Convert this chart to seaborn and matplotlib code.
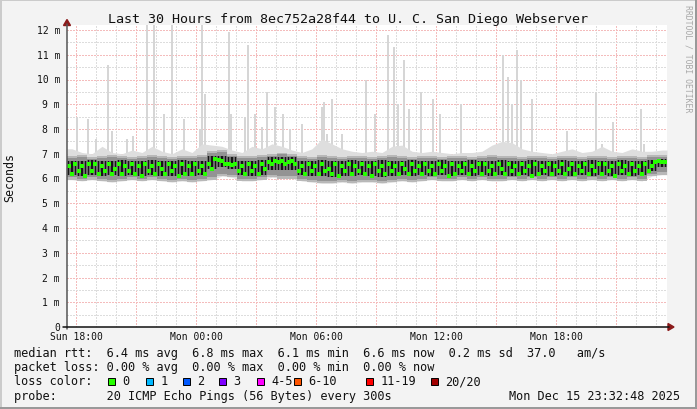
import numpy as np
import pandas as pd
import matplotlib
matplotlib.use("Agg")
import matplotlib.pyplot as plt
from matplotlib.patches import Rectangle, Polygon
from matplotlib.lines import Line2D
import seaborn as sns

TITLE = "Last 30 Hours from 8ec752a28f44 to U. C. San Diego Webserver"
X_TICK_HOURS = [0.4533, 6.4533, 12.4533, 18.4533, 24.4533]
X_TICK_LABELS = ["Sun 18:00", "Mon 00:00", "Mon 06:00", "Mon 12:00", "Mon 18:00"]
Y_TICKS = list(range(13))
Y_TICK_LABELS = ["0"] + [f"{v} m" for v in range(1, 13)]

# median rtt (ms), one value per 10 minutes, 180 steps
MEDIAN = [
    6.5, 6.2, 6.6, 6.3, 6.5, 6.1, 6.6, 6.3, 6.6, 6.2, 6.5, 6.3,
    6.6, 6.2, 6.4, 6.6, 6.2, 6.5, 6.3, 6.6, 6.2, 6.5, 6.1, 6.6,
    6.3, 6.5, 6.2, 6.6, 6.4, 6.2, 6.6, 6.3, 6.5, 6.1, 6.6, 6.2,
    6.5, 6.2, 6.6, 6.3, 6.5, 6.2, 6.6, 6.4, 6.8, 6.75, 6.7, 6.6,
    6.6, 6.55, 6.6, 6.3, 6.5, 6.2, 6.6, 6.3, 6.5, 6.2, 6.6, 6.4,
    6.65, 6.6, 6.7, 6.65, 6.7, 6.6, 6.65, 6.7, 6.6, 6.3, 6.5, 6.2,
    6.6, 6.3, 6.5, 6.2, 6.6, 6.3, 6.4, 6.2, 6.6, 6.1, 6.5, 6.3,
    6.6, 6.2, 6.5, 6.3, 6.6, 6.2, 6.5, 6.1, 6.6, 6.3, 6.5, 6.2,
    6.6, 6.3, 6.5, 6.2, 6.6, 6.4, 6.2, 6.6, 6.3, 6.5, 6.2, 6.6,
    6.3, 6.5, 6.2, 6.6, 6.3, 6.5, 6.1, 6.6, 6.2, 6.5, 6.3, 6.6,
    6.2, 6.5, 6.3, 6.6, 6.2, 6.6, 6.3, 6.5, 6.2, 6.6, 6.4, 6.2,
    6.6, 6.3, 6.5, 6.2, 6.6, 6.3, 6.5, 6.1, 6.6, 6.2, 6.5, 6.3,
    6.6, 6.2, 6.5, 6.3, 6.6, 6.2, 6.4, 6.6, 6.2, 6.5, 6.3, 6.6,
    6.2, 6.5, 6.3, 6.6, 6.2, 6.6, 6.3, 6.5, 6.1, 6.6, 6.3, 6.5,
    6.2, 6.6, 6.3, 6.5, 6.2, 6.6, 6.3, 6.5, 6.65, 6.7, 6.65, 6.65,
]

# smoke bands (ms), one value per 30 minutes, 60 steps
SMOKE_LO = [
    5.95, 5.9, 5.95, 5.9, 5.85, 5.9, 5.95, 5.9, 5.95, 5.9,
    5.85, 5.9, 5.85, 5.9, 5.95, 6.1, 6.05, 5.9, 5.9, 5.95,
    6.05, 6.0, 6.0, 5.9, 5.85, 5.8, 5.8, 5.85, 5.8, 5.85,
    5.85, 5.8, 5.85, 5.9, 5.85, 5.9, 5.95, 5.9, 5.9, 5.95,
    5.9, 5.95, 5.9, 5.9, 5.95, 5.9, 5.95, 5.9, 5.95, 5.9,
    5.95, 5.9, 5.95, 5.9, 5.95, 5.9, 5.95, 5.9, 6.1, 6.15,
]
SMOKE_HI = [
    6.9, 6.95, 6.85, 6.9, 6.95, 6.9, 6.85, 6.9, 6.95, 6.9,
    6.85, 6.9, 6.9, 6.95, 7.1, 7.15, 7.0, 6.9, 6.9, 6.95,
    7.0, 7.05, 7.0, 6.9, 6.85, 6.95, 6.9, 6.85, 6.9, 6.9,
    6.85, 6.9, 6.95, 6.9, 6.85, 6.9, 6.9, 6.85, 6.9, 6.9,
    6.85, 6.9, 6.95, 6.9, 6.9, 6.85, 6.9, 6.9, 6.85, 6.9,
    6.9, 6.85, 6.9, 6.9, 6.85, 6.9, 6.9, 6.85, 6.95, 6.95,
]
HAZE_HI = [
    7.2, 7.05, 7.0, 7.3, 7.05, 7.0, 7.15, 7.05, 7.3, 7.1,
    7.0, 7.2, 7.05, 7.4, 7.35, 7.3, 7.15, 7.05, 7.3, 7.2,
    7.4, 7.3, 7.15, 7.05, 7.2, 7.6, 7.4, 7.2, 7.1, 7.05,
    7.1, 7.05, 7.3, 7.35, 7.1, 7.05, 7.1, 7.05, 7.0, 7.05,
    7.05, 7.1, 7.35, 7.5, 7.45, 7.2, 7.1, 7.05, 7.0, 7.1,
    7.2, 7.05, 7.1, 7.3, 7.1, 7.05, 7.2, 7.1, 7.1, 7.15,
]
CORE_LO = [
    6.15, 6.1, 6.15, 6.1, 6.15, 6.1, 6.15, 6.1, 6.15, 6.1,
    6.1, 6.15, 6.1, 6.15, 6.4, 6.45, 6.4, 6.15, 6.1, 6.15,
    6.35, 6.35, 6.35, 6.15, 6.1, 6.1, 6.05, 6.1, 6.1, 6.15,
    6.1, 6.05, 6.1, 6.15, 6.1, 6.15, 6.1, 6.15, 6.1, 6.15,
    6.1, 6.15, 6.1, 6.15, 6.1, 6.15, 6.1, 6.15, 6.1, 6.15,
    6.1, 6.15, 6.1, 6.15, 6.1, 6.15, 6.1, 6.15, 6.3, 6.45,
]
CORE_HI = [
    6.7, 6.7, 6.75, 6.7, 6.7, 6.75, 6.7, 6.7, 6.75, 6.7,
    6.7, 6.75, 6.7, 6.7, 6.9, 6.9, 6.85, 6.7, 6.7, 6.75,
    6.85, 6.85, 6.85, 6.7, 6.7, 6.75, 6.7, 6.7, 6.75, 6.7,
    6.7, 6.75, 6.7, 6.7, 6.75, 6.7, 6.7, 6.75, 6.7, 6.7,
    6.75, 6.7, 6.7, 6.75, 6.7, 6.7, 6.75, 6.7, 6.7, 6.75,
    6.7, 6.7, 6.75, 6.7, 6.7, 6.75, 6.7, 6.7, 6.75, 6.8,
]

# isolated high pings (hours from start, peak ms)
SPIKE_HOURS = [0.5, 1.05, 1.45, 2.05, 2.25, 3.0, 3.3, 4.0, 4.35, 4.85, 5.25, 5.85,
               6.65, 6.75, 6.9, 8.1, 8.2, 8.9, 9.05, 9.4, 9.75, 10.0, 10.4, 10.8,
               11.15, 11.75, 12.75, 12.85, 13.0, 13.25, 13.75, 14.95, 15.4, 16.05,
               16.35, 16.55, 16.85, 17.1, 17.7, 18.3, 18.65, 19.7, 21.8, 22.05,
               22.25, 22.5, 22.7, 23.25, 25.0, 26.45, 26.75, 27.3, 28.7, 28.85]
SPIKE_PEAK = [8.5, 8.4, 7.6, 10.6, 7.9, 7.6, 7.7, 12.5, 12.5, 8.6, 12.5, 8.4,
              8.0, 12.5, 9.4, 11.9, 8.6, 8.5, 11.4, 8.6, 8.1, 9.5, 8.9, 8.6,
              8.0, 8.2, 8.9, 9.1, 7.8, 9.2, 7.8, 10.0, 8.6, 11.8,
              11.3, 9.0, 10.8, 8.8, 9.5, 9.2, 8.6, 9.0, 11.0, 10.1,
              9.0, 11.2, 10.0, 9.2, 7.9, 9.5, 7.4, 8.3, 8.8, 7.4]

LOSS_LABELS = ["0", "1", "2", "3", "4-5", "6-10", "11-19", "20/20"]
LOSS_COLORS = ["#26ff00", "#00b8ff", "#0059ff", "#7e00ff", "#ff00ff", "#ff5500", "#ff0000", "#a10000"]
LOSS_X = [108, 146, 183, 219, 257, 294, 366, 431]

LINE_RTT = "median rtt:  6.4 ms avg  6.8 ms max  6.1 ms min  6.6 ms now  0.2 ms sd  37.0   am/s"
LINE_LOSS = "packet loss: 0.00 % avg  0.00 % max  0.00 % min  0.00 % now"
LINE_PROBE = "probe:       20 ICMP Echo Pings (56 Bytes) every 300s"
STAMP = "Mon Dec 15 23:32:48 2025"

W, H = 697, 410
PX_PER_MS = 24.75


def fx(px):
    return px / W


def fy(py):
    return 1 - py / H


sns.set_style("white")
plt.rcParams["font.family"] = ["DejaVu Sans Mono"]

fig = plt.figure(figsize=(W / 100, H / 100), dpi=100, facecolor="#f3f3f3")
ax = fig.add_axes([fx(67), fy(328), 600 / W, 302 / H])
ax.set_facecolor("white")
ax.set_xlim(0, 30)
ax.set_ylim(0, 302 / PX_PER_MS)
for s in ax.spines.values():
    s.set_visible(False)
ax.set_xticks([])
ax.set_yticks([])

# grid, dotted like rrdtool
grid_kw = dict(lw=1.0, dashes=(1, 1), zorder=0.5, antialiased=False)
for k in range(30):
    h = X_TICK_HOURS[0] + k
    if h > 30:
        break
    col = "#f4bcbc" if k % 3 == 0 else "#dddddd"
    ax.axvline(h, color=col, **grid_kw)
for v in np.arange(0.5, 12.5, 0.5):
    col = "#f4bcbc" if v % 1 == 0 else "#dddddd"
    ax.axhline(v, color=col, **grid_kw)

# smoke
t_med = (np.arange(len(MEDIAN)) + 0.5) / 6.0
t_30 = np.arange(len(SMOKE_LO) + 1) * 0.5
t_30c = (np.arange(len(SMOKE_LO)) + 0.5) * 0.5


def stepped(vals):
    return np.append(vals, vals[-1])


ax.bar(SPIKE_HOURS, np.array(SPIKE_PEAK) - 6.5, bottom=6.5, width=0.1,
       color="#d6d6d6", lw=0, zorder=1)
ax.fill_between(np.r_[0, t_30c, 30], np.r_[SMOKE_LO[0], SMOKE_LO, SMOKE_LO[-1]],
                np.r_[HAZE_HI[0], HAZE_HI, HAZE_HI[-1]], color="#dedede", lw=0, zorder=1)
ax.fill_between(t_30, np.array(stepped(SMOKE_LO)), stepped(SMOKE_HI), step="post",
                color="#b8b8b8", lw=0, zorder=2)
ax.fill_between(t_30, np.array(stepped(SMOKE_LO)) + 0.1, np.array(stepped(SMOKE_HI)) - 0.08,
                step="post", color="#939393", lw=0, zorder=2)
ax.fill_between(t_30, stepped(CORE_LO), stepped(CORE_HI), step="post",
                color="#6a6a6a", lw=0, zorder=3)

core_lo = np.repeat(CORE_LO, 3)
core_hi = np.repeat(CORE_HI, 3)
ax.bar(t_med, core_hi - core_lo, bottom=core_lo, width=0.075,
       color="#151515", lw=0, zorder=4)

med_df = pd.DataFrame({"hour": t_med, "median": MEDIAN})
sns.scatterplot(data=med_df, x="hour", y="median", marker="s", s=5.2,
                color="#26ff00", linewidth=0, ax=ax, zorder=5)
ax.set_xlabel("")
ax.set_ylabel("")

# axes lines and arrows
fig.add_artist(Line2D([fx(67), fx(67)], [fy(330), fy(25)], color="#555555", lw=1.1,
                      transform=fig.transFigure))
fig.add_artist(Line2D([fx(63), fx(669)], [fy(328), fy(328)], color="#111111", lw=1.1,
                      transform=fig.transFigure))
fig.add_artist(Polygon([[fx(63.5), fy(26.5)], [fx(70.5), fy(26.5)], [fx(67), fy(20.5)]],
                       closed=True, color="#8b1a1a", transform=fig.transFigure))
fig.add_artist(Polygon([[fx(668), fy(324.5)], [fx(668), fy(331.5)], [fx(674), fy(328)]],
                       closed=True, color="#8b1a1a", transform=fig.transFigure))

# tick labels
for v, lab in zip(Y_TICKS, Y_TICK_LABELS):
    fig.text(fx(60), fy(328 - v * PX_PER_MS), lab, ha="right", va="center",
             fontsize=7.0, color="#111111")
for h, lab in zip(X_TICK_HOURS, X_TICK_LABELS):
    fig.text(fx(67 + h * 20), fy(337), lab, ha="center", va="center",
             fontsize=7.0, color="#111111")

fig.text(fx(347.5), fy(19.5), TITLE, ha="center", va="center", fontsize=9.6, color="#111111")
fig.text(fx(10), fy(178), "Seconds", ha="center", va="center", rotation=90,
         fontsize=8.4, color="#111111")
fig.text(fx(688), fy(5), "RRDTOOL / TOBI OETIKER", ha="center", va="top", rotation=270,
         fontsize=5.9, color="#a8a8a8")

# legend block
fig.text(fx(14), fy(354), LINE_RTT, ha="left", va="center", fontsize=8.6, color="#111111")
fig.text(fx(14), fy(368), LINE_LOSS, ha="left", va="center", fontsize=8.6, color="#111111")
fig.text(fx(14), fy(382), "loss color:", ha="left", va="center", fontsize=8.6, color="#111111")
for px, lab, col in zip(LOSS_X, LOSS_LABELS, LOSS_COLORS):
    fig.add_artist(Rectangle((fx(px), fy(385.5)), 7 / W, 7 / H, facecolor=col,
                             edgecolor="black", lw=0.7, transform=fig.transFigure))
    fig.text(fx(px + 14.5), fy(382), lab, ha="left", va="center", fontsize=8.6, color="#111111")
fig.text(fx(14), fy(396.5), LINE_PROBE, ha="left", va="center", fontsize=8.6, color="#111111")
fig.text(fx(680), fy(396.5), STAMP, ha="right", va="center", fontsize=8.6, color="#111111")

# frame shading
fig.add_artist(Rectangle((0, fy(2)), 1, 2 / H, facecolor="#cbcbcb", lw=0, transform=fig.transFigure))
fig.add_artist(Rectangle((0, 0), 2 / W, 1, facecolor="#cbcbcb", lw=0, transform=fig.transFigure))
fig.add_artist(Rectangle((0, 0), 1, 2 / H, facecolor="#999999", lw=0, transform=fig.transFigure))
fig.add_artist(Rectangle((fx(695), 0), 2 / W, 1, facecolor="#999999", lw=0, transform=fig.transFigure))

fig.savefig("out.png", dpi=100, facecolor=fig.get_facecolor())
